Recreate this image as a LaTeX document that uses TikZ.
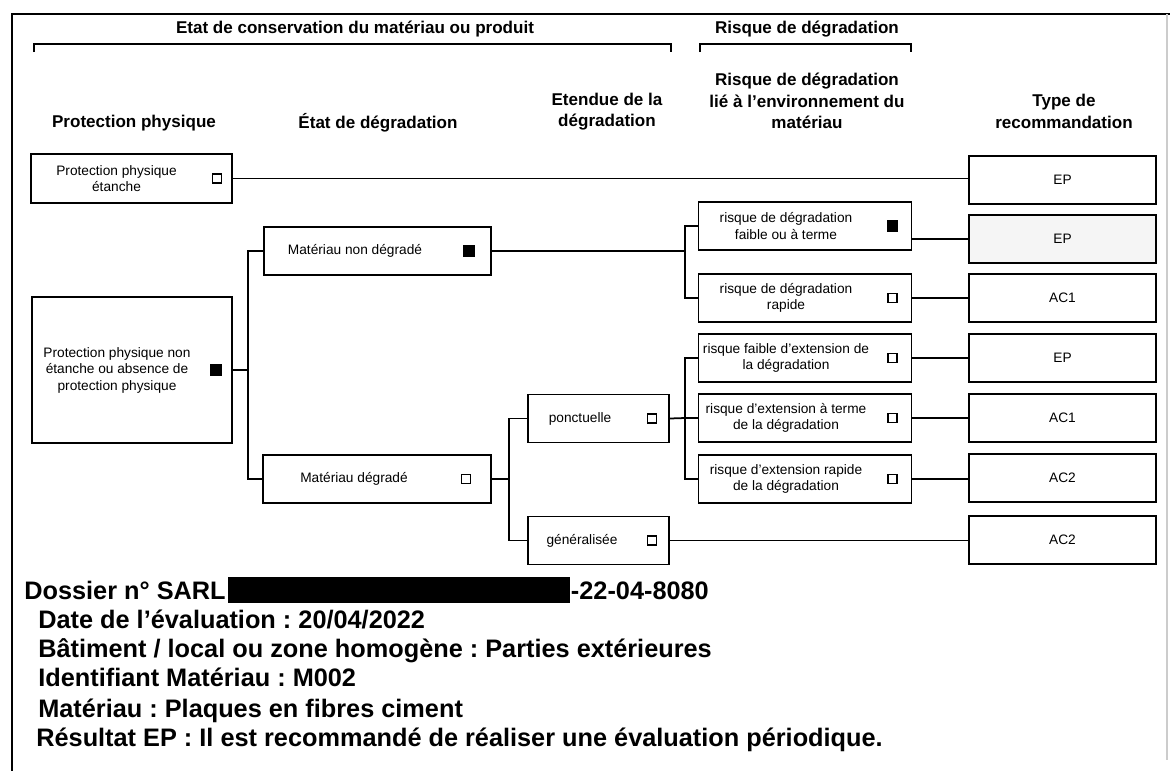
\documentclass[tikz,border=0pt]{standalone}
\usepackage{fontspec}
\setmainfont{Liberation Sans}
\usetikzlibrary{positioning}
\frenchspacing

\begin{document}
\begin{tikzpicture}[x=0.02cm, y=-0.02cm,
        box/.style={draw, line width=1.1pt, minimum height=0.96cm, inner sep=0pt},
        boxtext/.style={font=\fontsize{7.8}{9.4}\selectfont, align=center, inner sep=0pt},
        chkbox/.style={draw, line width=0.8pt, minimum size=5pt, inner sep=0pt},
        chkdone/.style={chkbox, fill=black, minimum size=5.6pt},
        colhead/.style={font=\fontsize{9.7}{12.2}\selectfont\bfseries, align=center},
        link/.style={line width=1pt},
        info/.style={font=\fontsize{14.4}{17}\selectfont\bfseries, anchor=base west, inner sep=0pt}
    ]
        \useasboundingbox (0,0) rectangle (1170,771);

        % Frame
        \draw[line width=1pt] (1170,14) -- (12,14) -- (12,771);
        \draw[gray!40, line width=0.6pt] (1167,14) -- (1167,760);

        % Brackets on top
        \node[colhead] (cons_label) at (355,29) {Etat de conservation du matériau ou produit};
        \draw[line width=1pt] (34,52) -- (34,44) -- (671,44) -- (671,52);
        \node[colhead] (risk_label) at (807,29) {Risque de dégradation};
        \draw[line width=1pt] (700,52) -- (700,44) -- (911,44) -- (911,52);

        % Column headers
        \node[colhead] (h_prot) at (134,123) {Protection physique};
        \node[colhead] (h_etat) at (378,123) {État de dégradation};
        \node[colhead] (h_etendue) at (607,111.5) {Etendue de la\\dégradation};
        \node[colhead] (h_risque) at (807,101) {Risque de dégradation\\lié à l'environnement du\\matériau};
        \node[colhead] (h_type) at (1064,111.5) {Type de\\recommandation};

        % Protection physique
        \node[box, minimum width=4.02cm, minimum height=0.98cm] (ppe) at (131.5,178.5) {};
        \node[boxtext] (ppe_t) at ([xshift=-0.3cm]ppe.center) {Protection physique\\étanche};
        \node[chkbox] (ppe_c) at ([xshift=-0.32cm]ppe.east) {};

        \node[box, minimum width=4cm, minimum height=2.92cm] (ppne) at (132,370) {};
        \node[boxtext] (ppne_t) at ([xshift=-0.3cm]ppne.center) {Protection physique non\\étanche ou absence de\\protection physique};
        \node[chkdone] (ppne_c) at ([xshift=-0.34cm]ppne.east) {};

        % Etat de degradation
        \node[box, minimum width=4.54cm] (mnd) at (377.5,251) {};
        \node[boxtext] (mnd_t) at ([xshift=-0.45cm]mnd.center) {Matériau non dégradé};
        \node[chkdone] (mnd_c) at ([xshift=-0.46cm]mnd.east) {};

        \node[box, minimum width=4.56cm] (md) at (377,479) {};
        \node[boxtext] (md_t) at ([xshift=-0.46cm]md.center) {Matériau dégradé};
        \node[chkbox] (md_c) at ([xshift=-0.52cm]md.east) {};

        % Etendue
        \node[box, minimum width=2.82cm] (pon) at (598.5,418.5) {};
        \node[boxtext] (pon_t) at ([xshift=-0.37cm]pon.center) {ponctuelle};
        \node[chkbox] (pon_c) at ([xshift=-0.36cm]pon.east) {};

        \node[box, minimum width=2.82cm] (gen) at (598.5,540.5) {};
        \node[boxtext] (gen_t) at ([xshift=-0.33cm]gen.center) {généralisée};
        \node[chkbox] (gen_c) at ([xshift=-0.36cm]gen.east) {};

        % Risque lie a l'environnement
        \foreach \i/\y/\txt/\mark in {1/226/{risque de dégradation\\faible ou à terme}/chkdone,
                                      2/298/{risque de dégradation\\rapide}/chkbox,
                                      3/358/{risque faible d'extension de\\la dégradation}/chkbox,
                                      4/418/{risque d'extension à terme\\de la dégradation}/chkbox,
                                      5/479/{risque d'extension rapide\\de la dégradation}/chkbox} {
            \node[box, minimum width=4.26cm] (r\i) at (805,\y) {};
            \node[boxtext] (r\i_t) at ([xshift=-0.38cm]r\i.center) {\txt};
            \node[\mark] (r\i_c) at ([xshift=-0.4cm]r\i.east) {};
        }

        % Type de recommandation
        \foreach \i/\y/\txt/\col in {1/180/EP/white, 2/239/EP/gray!8, 3/298/AC1/white,
                                     4/358/EP/white, 5/418/AC1/white, 6/478/AC2/white, 7/540/AC2/white} {
            \node[box, minimum width=3.74cm, fill=\col, font=\fontsize{7.8}{9.4}\selectfont] (t\i) at (1062.5,\y) {\txt};
        }

        % Connections
        \coordinate (j1) at (248,370);
        \coordinate (j2) at (509,479);
        \coordinate (j3) at (685,251);
        \coordinate (j4) at (685,418);

        \draw[link] (ppe.east) -- (ppe.east -| t1.west);
        \draw[link] (ppne.east) -- (j1);
        \draw[link] (mnd.west) -| (j1) |- (md.west);
        \draw[link] (md.east) -- (j2);
        \draw[link] (pon.west) -| (j2) |- (gen.west);
        \draw[link] (mnd.east) -- (j3);
        \draw[link] (r1.west) -| (j3) |- (r2.west);
        \draw[link] (pon.east) -- (j4);
        \draw[link] (r3.west) -| (j4) |- (r5.west);
        \draw[link] (j4) -- (r4.west);
        \draw[link] (t2.west) -- (t2.west -| r1.east);
        \foreach \i/\j in {2/3, 3/4, 4/5, 5/6} {
            \draw[link] (r\i.east) -- (r\i.east -| t\j.west);
        }
        \draw[link] (gen.east) -- (gen.east -| t7.west);

        % Dossier information
        \node[info] (dossier) at (24,599) {Dossier n° SARL};
        \node[fill=black, minimum width=6.84cm, minimum height=0.52cm, inner sep=0pt, anchor=west] (masque) at (228,589.5) {};
        \node[info] (dossnum) at (masque.east |- dossier.base) {-22-04-8080};
        \node[info] (date) at (38,628) {Date de l'évaluation : 20/04/2022};
        \node[info] (batiment) at (38,657) {Bâtiment / local ou zone homogène : Parties extérieures};
        \node[info] (ident) at (38,686) {Identifiant Matériau : M002};
        \node[info] (materiau) at (38,717) {Matériau : Plaques en fibres ciment};
        \node[info] (resultat) at (36,746) {Résultat EP : Il est recommandé de réaliser une évaluation périodique.};
    \end{tikzpicture}
\end{document}
